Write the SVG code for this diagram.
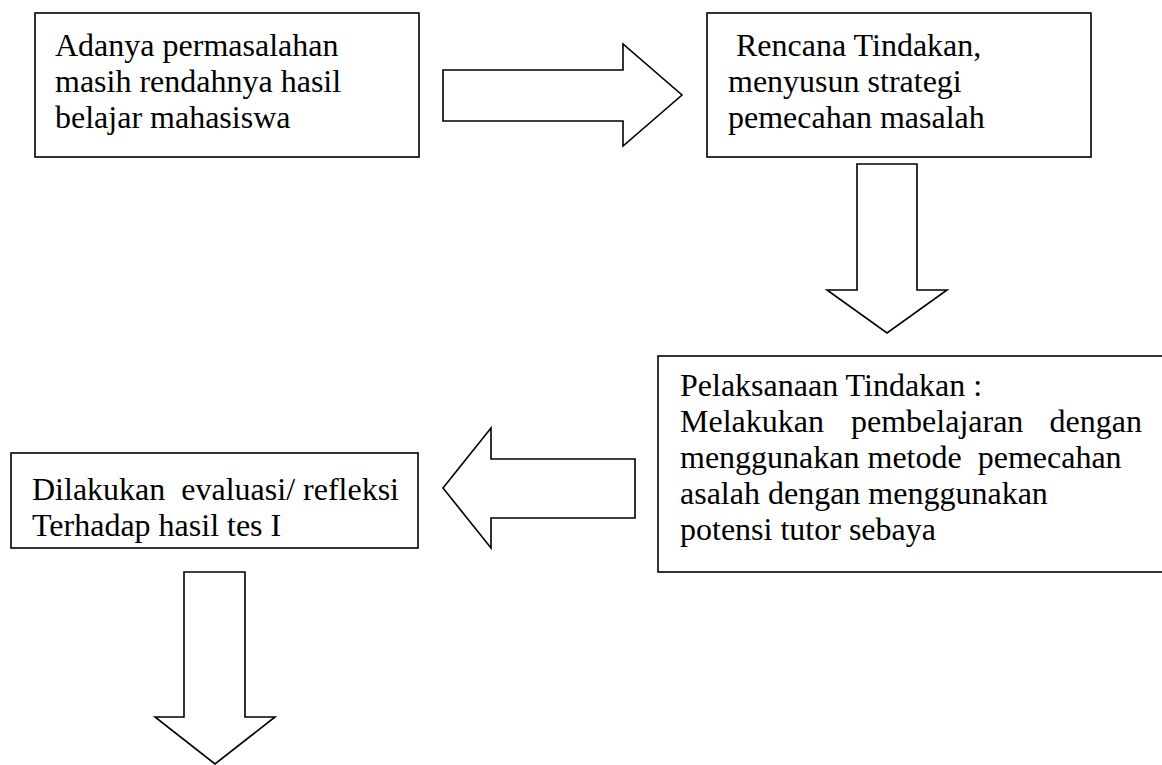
<svg xmlns="http://www.w3.org/2000/svg" width="1162" height="765" viewBox="0 0 1162 765">
<style>
.box{fill:#fff;stroke:#000;stroke-width:1.6}
.arr{fill:#fff;stroke:#000;stroke-width:1.6;stroke-linejoin:miter}
text{font-family:"Liberation Serif","Times New Roman",serif;font-size:32px;fill:#000}
</style>
<rect width="1162" height="765" fill="#fff"/>
<g id="connectors">
<polygon class="arr" points="443,70 623,70 623,44 682,95 623,146 623,121 443,121"/>
<polygon class="arr" points="857,164 917,164 917,290 947,290 887,333 827,290 857,290"/>
<polygon class="arr" points="635,459 491,459 491,428 443,488 491,548 491,518 635,518"/>
<polygon class="arr" points="184,572 245,572 245,717 275,717 215,764 155,717 184,717"/>
</g>
<g id="node1">
<rect class="box" x="35" y="13" width="384" height="144"/>
<text x="55" y="56">Adanya permasalahan</text>
<text x="55" y="92">masih rendahnya hasil</text>
<text x="55" y="128">belajar mahasiswa</text>
</g>
<g id="node2">
<rect class="box" x="707" y="13" width="384" height="144"/>
<text x="736" y="56">Rencana Tindakan,</text>
<text x="728" y="92">menyusun strategi</text>
<text x="728" y="128">pemecahan masalah</text>
</g>
<g id="node3">
<rect class="box" x="658" y="356" width="510" height="216"/>
<text x="680" y="396">Pelaksanaan Tindakan :</text>
<text y="432"><tspan x="680">Melakukan</tspan><tspan x="851">pembelajaran</tspan><tspan x="1142" text-anchor="end">dengan</tspan></text>
<text x="680" y="468" xml:space="preserve">menggunakan metode  pemecahan</text>
<text x="680" y="504">asalah dengan menggunakan</text>
<text x="680" y="540">potensi tutor sebaya</text>
</g>
<g id="node4">
<rect class="box" x="11" y="453" width="407" height="95"/>
<text x="32" y="500" xml:space="preserve">Dilakukan  evaluasi/ refleksi</text>
<text x="32" y="536">Terhadap hasil tes I</text>
</g>
</svg>
